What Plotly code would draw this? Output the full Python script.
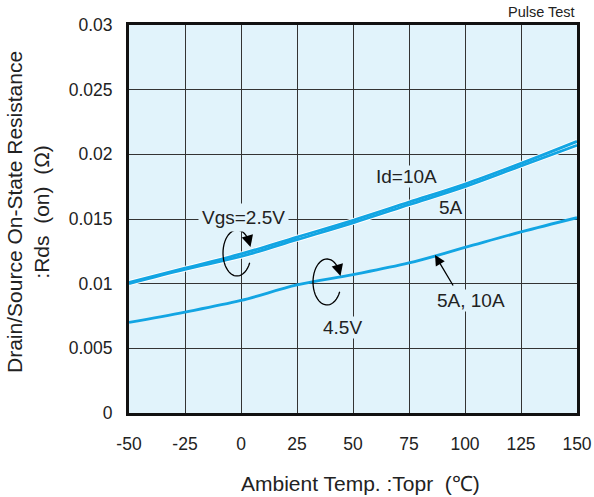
import numpy as np
import plotly.graph_objects as go

temps = [-50, -25, 0, 25, 50, 75, 100, 125, 150]
rds_25v_10a = [0.0101, 0.0112, 0.0123, 0.0136, 0.0149, 0.0163, 0.0177, 0.0193, 0.0210]
rds_25v_5a = [0.0100, 0.0111, 0.0121, 0.0134, 0.0147, 0.0161, 0.0175, 0.0191, 0.0207]
rds_45v = [0.0070, 0.0078, 0.0087, 0.0099, 0.0107, 0.0116, 0.0128, 0.0140, 0.0151]

x_ticks = [-50, -25, 0, 25, 50, 75, 100, 125, 150]
x_tick_labels = ["-50", "-25", "0", "25", "50", "75", "100", "125", "150"]
y_ticks = [0, 0.005, 0.01, 0.015, 0.02, 0.025, 0.03]
y_tick_labels = ["0", "0.005", "0.01", "0.015", "0.02", "0.025", "0.03"]

BLUE = "#12a5e3"
BG = "#e1f3fb"
FONT = "Liberation Sans, Arial, sans-serif"

fig = go.Figure()
for ys in (rds_25v_10a, rds_25v_5a):
    fig.add_trace(go.Scatter(x=temps, y=ys, mode="lines", line=dict(color="white", width=4.5, shape="spline"),
                             hoverinfo="skip", showlegend=False))
for ys in (rds_25v_10a, rds_25v_5a, rds_45v):
    fig.add_trace(go.Scatter(x=temps, y=ys, mode="lines", line=dict(color=BLUE, width=2.8, shape="spline"),
                             showlegend=False))

# plot geometry helpers (pixels -> data) for decorative rotating arrows
L, R, T, B = 129, 577, 25, 413
def px2x(px):
    return (px - L) / (R - L) * 200 - 50
def py2y(py):
    return (B - py) / (B - T) * 0.03

def arc_path(cx, cy, rx, ry, a0, a1, n=40):
    pts = []
    for a in np.linspace(np.radians(a0), np.radians(a1), n):
        px = cx + rx * np.cos(a)
        py = cy - ry * np.sin(a)
        pts.append((px2x(px), py2y(py)))
    return "M " + " L ".join(f"{x:.4f},{y:.6f}" for x, y in pts)

shapes = []
annos = []
for (cx, cy) in [(237, 253), (327, 282)]:
    rx, ry = 14, 23
    a_start, a_end = -25, -325
    shapes.append(dict(type="path", path=arc_path(cx, cy, rx, ry, a_start, a_end), xref="x", yref="y",
                       line=dict(color="black", width=1.3)))
    ae = np.radians(a_end)
    tipx = cx + rx * np.cos(np.radians(a_end - 20))
    tipy = cy - ry * np.sin(np.radians(a_end - 20))
    basex = cx + rx * np.cos(ae)
    basey = cy - ry * np.sin(ae)
    annos.append(dict(x=px2x(tipx), y=py2y(tipy), xref="x", yref="y", text="", showarrow=True,
                      ax=basex - tipx, ay=basey - tipy, arrowhead=2, arrowsize=1.8, arrowwidth=1.3,
                      arrowcolor="black"))

tf = dict(family=FONT, size=19, color="#222")
annos += [
    dict(x=1.0, y=1.0, xref="paper", yref="paper", yshift=3, text="Pulse Test", showarrow=False,
         xanchor="right", yanchor="bottom", font=dict(family=FONT, size=14.5, color="#222")),
    dict(x=px2x(406), y=py2y(176), xref="x", yref="y", text="Id=10A", showarrow=False, bgcolor=BG, font=tf,
         borderpad=0),
    dict(x=px2x(451), y=py2y(207), xref="x", yref="y", text="5A", showarrow=False, font=tf),
    dict(x=px2x(243), y=py2y(217), xref="x", yref="y", text="Vgs=2.5V", showarrow=False, bgcolor=BG, font=tf,
         borderpad=3),
    dict(x=px2x(342), y=py2y(327), xref="x", yref="y", text="4.5V", showarrow=False, bgcolor=BG, font=tf,
         borderpad=0),
    dict(x=px2x(471), y=py2y(300), xref="x", yref="y", text="5A, 10A", showarrow=False, bgcolor=BG, font=tf,
         borderpad=0),
    dict(x=px2x(435), y=py2y(255), xref="x", yref="y", ax=px2x(454), ay=py2y(287), axref="x", ayref="y",
         text="", showarrow=True, arrowhead=2, arrowsize=1.6, arrowwidth=1.3, arrowcolor="black"),
    dict(x=(360 - L) / (R - L), y=(B - 483) / (B - T), xref="paper", yref="paper",
         text="Ambient Temp. :Topr  (℃)", showarrow=False,
         font=dict(family=FONT, size=21, color="#222"), xanchor="center", yanchor="middle"),
    dict(x=(28 - L) / (R - L), y=(B - 212) / (B - T), xref="paper", yref="paper",
         text="Drain/Source On-State Resistance<br>:Rds  (on)  (Ω)", showarrow=False, textangle=-90,
         font=dict(family=FONT, size=21, color="#222"), xanchor="center", yanchor="middle"),
]

fig.update_layout(
    width=594, height=497, autosize=False,
    margin=dict(l=L, r=594 - R, t=T, b=497 - B, autoexpand=False),
    paper_bgcolor="white", plot_bgcolor=BG,
    shapes=shapes, annotations=annos,
    xaxis=dict(range=[-50, 150], tickvals=x_ticks, ticktext=x_tick_labels, ticks="", showgrid=True,
               gridcolor="#333", gridwidth=1, automargin=False,
               zeroline=False, showline=True, linecolor="#111", linewidth=3, mirror=True,
               tickfont=dict(family=FONT, size=17.5, color="#222"), ticklabelstandoff=13),
    yaxis=dict(range=[0, 0.03], tickvals=y_ticks, ticktext=y_tick_labels, ticks="", showgrid=True,
               gridcolor="#333", gridwidth=1, zeroline=False, showline=True, linecolor="#111", linewidth=3,
               automargin=False,
               mirror=True, tickfont=dict(family=FONT, size=17.5, color="#222"), ticklabelstandoff=10),
)

fig.write_html("out.html", config={"displayModeBar": False, "responsive": False},
               post_script="document.body.style.margin='0';document.body.style.padding='0';"
                           "document.documentElement.style.overflow='hidden';")
